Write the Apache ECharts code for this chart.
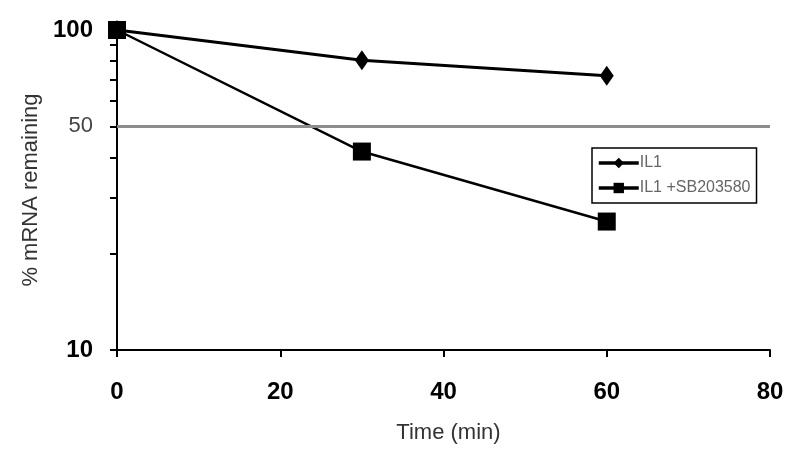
<!DOCTYPE html>
<html>
<head>
<meta charset="utf-8">
<script src="https://cdn.jsdelivr.net/npm/echarts@6/dist/echarts.min.js"></script>
<style>html,body{margin:0;padding:0;background:#fff}#c{width:800px;height:464px}</style>
</head>
<body>
<div id="c"></div>
<script>
var times = [0, 30, 60];
var il1 = [100, 80.5, 72];
var il1sb = [100, 41.7, 25.2];
var seriesNames = ['IL1', 'IL1 +SB203580'];
var xTicks = [0, 20, 40, 60, 80];
var yTickValues = [10, 20, 30, 40, 50, 60, 70, 80, 90, 100];
var yLabelValues = [10, 50, 100];
var refValue = 50;

function pairs(xs, ys) { return xs.map(function (x, i) { return [x, ys[i]]; }); }

var chart = echarts.init(document.getElementById('c'));
chart.setOption({
  animation: false,
  backgroundColor: '#fff',
  grid: { left: 117, right: 30, top: 30, bottom: 114 },
  legend: {
    orient: 'vertical', left: 592, top: 148,
    data: seriesNames,
    borderColor: '#000', borderWidth: 1.5,
    padding: [7, 6, 7, 5], itemGap: 9,
    itemWidth: 40, itemHeight: 13,
    lineStyle: { width: 3.5, color: '#000' },
    textStyle: { fontFamily: 'Liberation Sans', fontSize: 16, color: '#666', padding: [0, 0, 0, -4] }
  },
  xAxis: {
    type: 'value', min: 0, max: 80, interval: 20,
    name: 'Time (min)', nameLocation: 'middle', nameGap: 72,
    nameTextStyle: { fontFamily: 'Liberation Sans', fontSize: 22, color: '#333', padding: [0, 0, 0, 10] },
    axisLine: { lineStyle: { color: '#000', width: 2 } },
    axisTick: { show: true, length: 7, lineStyle: { color: '#000', width: 2 } },
    axisLabel: { margin: 30, fontFamily: 'Liberation Sans', fontWeight: 'bold', fontSize: 24, color: '#000',
      customValues: xTicks },
    splitLine: { show: false }
  },
  yAxis: {
    type: 'log', logBase: 10, min: 10, max: 100,
    name: '% mRNA remaining', nameLocation: 'middle', nameGap: 64, nameRotate: 90,
    nameTextStyle: { fontFamily: 'Liberation Sans', fontSize: 22, color: '#333' },
    axisLine: { show: true, lineStyle: { color: '#000', width: 2 } },
    axisTick: { show: true, length: 7, lineStyle: { color: '#000', width: 2 }, customValues: yTickValues },
    axisLabel: {
      margin: 24, customValues: yLabelValues,
      formatter: function (v) { return v === 50 ? '{g|50}' : '{b|' + v + '}'; },
      rich: {
        b: { fontFamily: 'Liberation Sans', fontWeight: 'bold', fontSize: 24, color: '#000' },
        g: { fontFamily: 'Liberation Sans', fontWeight: 'normal', fontSize: 22, color: '#444' }
      }
    },
    splitLine: { show: false }
  },
  series: [
    {
      name: 'ref', type: 'line', data: [], z: 1,
      markLine: {
        silent: true, symbol: 'none', label: { show: false },
        lineStyle: { color: '#8c8c8c', width: 3, type: 'solid' },
        data: [{ yAxis: refValue }]
      }
    },
    {
      name: seriesNames[0], type: 'line', data: pairs(times, il1), z: 3,
      symbol: 'diamond', symbolSize: [14, 20],
      lineStyle: { color: '#000', width: 3 },
      itemStyle: { color: '#000' }
    },
    {
      name: seriesNames[1], type: 'line', data: pairs(times, il1sb), z: 4,
      symbol: 'rect', symbolSize: 18,
      lineStyle: { color: '#000', width: 2.5 },
      itemStyle: { color: '#000' }
    }
  ]
});
</script>
</body>
</html>
